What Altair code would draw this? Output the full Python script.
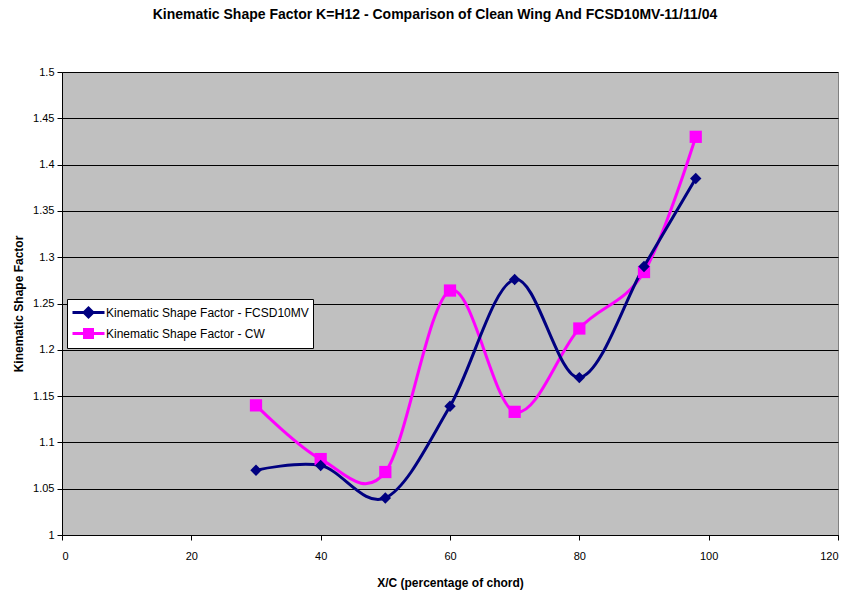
import altair as alt
import pandas as pd

x_vals = [30, 40, 50, 60, 70, 80, 90, 98]
fcsd = [1.070, 1.075, 1.040, 1.139, 1.276, 1.170, 1.290, 1.385]
cw = [1.140, 1.082, 1.068, 1.264, 1.133, 1.223, 1.284, 1.430]

names = ["Kinematic Shape Factor - FCSD10MV", "Kinematic Shape Factor - CW"]
colors = ["#000080", "#FF00FF"]
shapes = ["diamond", "square"]
legend_paths = [
    "M-2,0L2,0M0,-0.55L0.55,0L0,0.55L-0.55,0Z",
    "M-2,0L2,0M-0.5,-0.5L0.5,-0.5L0.5,0.5L-0.5,0.5Z",
]

rows = []
for n, ys in zip(names, [fcsd, cw]):
    for xv, yv in zip(x_vals, ys):
        rows.append({"x": xv, "y": yv, "series": n})
df = pd.DataFrame(rows)

FONT = "Liberation Sans"

xenc = alt.X("x:Q", scale=alt.Scale(domain=[0, 120], nice=False),
             axis=alt.Axis(values=list(range(0, 121, 20)), title="X/C (percentage of chord)",
                           grid=False, tickSize=5, labelPadding=10, titleY=47,
                           titleBaseline="middle"))
yenc = alt.Y("y:Q", scale=alt.Scale(domain=[1.0, 1.5], nice=False, zero=False),
             axis=alt.Axis(values=[round(1 + 0.05 * i, 2) for i in range(11)], format=".2~f",
                           title="Kinematic Shape Factor", grid=True, tickSize=5,
                           labelPadding=3, titleX=-44, titleY=231.5, titleAngle=270,
                           titleAlign="center", titleBaseline="middle"))

base = alt.Chart(df)
layers = []
order = [1, 0]
for i in order:
    n = names[i]
    sub = base.transform_filter(alt.datum.series == n)
    layers.append(sub.mark_line(interpolate="cardinal", strokeWidth=3, color=colors[i]).encode(x=xenc, y=yenc))
for i in order:
    n = names[i]
    sub = base.transform_filter(alt.datum.series == n)
    layers.append(sub.mark_point(filled=True, opacity=1, color=colors[i], shape=shapes[i],
                                 size=130 if i == 0 else 150).encode(x=xenc, y=yenc))

legend_layer = base.transform_filter("false").mark_point(filled=False, opacity=1, strokeWidth=3).encode(
    x=xenc, y=yenc,
    color=alt.Color("series:N", scale=alt.Scale(domain=names, range=colors),
                    legend=alt.Legend(title=None)),
    fill=alt.Fill("series:N", scale=alt.Scale(domain=names, range=colors),
                  legend=alt.Legend(title=None)),
    shape=alt.Shape("series:N", scale=alt.Scale(domain=names, range=legend_paths),
                    legend=alt.Legend(title=None)),
)
layers.append(legend_layer)

chart = alt.layer(*layers).properties(
    width=776, height=463,
    title=alt.TitleParams("Kinematic Shape Factor K=H12 - Comparison of Clean Wing And FCSD10MV-11/11/04",
                          font=FONT, fontSize=14, fontWeight="bold", anchor="middle",
                          offset=37, dx=-15, baseline="middle"),
    autosize=alt.AutoSizeParams(type="none"),
    padding={"left": 62, "top": 72, "right": 12, "bottom": 58},
).configure_view(
    fill="#C0C0C0", stroke="#808080", strokeWidth=1
).configure_axis(
    labelFont=FONT, labelFontSize=11, labelColor="black",
    titleFont=FONT, titleFontSize=12, titleFontWeight="bold", titleColor="black",
    domainColor="black", tickColor="black", gridColor="black", gridWidth=1,
    domainWidth=1, tickWidth=1,
).configure_legend(
    orient="none", legendX=5, legendY=227, fillColor="white", strokeColor="black",
    padding=4, labelFont=FONT, labelFontSize=12, labelColor="black", labelLimit=400,
    symbolSize=256, symbolStrokeWidth=3, symbolOffset=8, labelOffset=8, rowPadding=0,
)

chart.save("out.html", embed_options={"renderer": "svg", "actions": False})
